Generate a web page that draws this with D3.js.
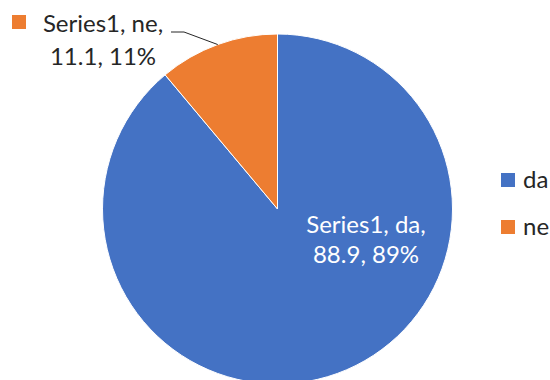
<!DOCTYPE html>
<html>
<head>
<meta charset="utf-8">
<script src="https://cdn.jsdelivr.net/npm/d3@7"></script>
<style>
  html, body { margin: 0; padding: 0; background: #fff; }
  svg { display: block; }
  text { font-family: "Lato", "Liberation Sans", sans-serif; }
</style>
</head>
<body>
<svg id="chart" width="550" height="380"></svg>
<script>
// Chart data
const seriesName = "Series1";
const categories = ["da", "ne"];
const values = [88.9, 11.1];
const percentLabels = ["89%", "11%"];
const colors = ["#4472C4", "#ED7D31"];

const width = 550, height = 380;
const cx = 277.5, cy = 209, radius = 175;
const fontSize = 24;
const textColor = "#262626";

const svg = d3.select("#chart");

const pie = d3.pie().sort(null).value(d => d.value);
const arcs = pie(categories.map((c, i) => ({ cat: c, value: values[i], pct: percentLabels[i], color: colors[i] })));
const arc = d3.arc().innerRadius(0).outerRadius(radius);

const g = svg.append("g").attr("transform", `translate(${cx},${cy})`);

g.selectAll("path.slice")
  .data(arcs)
  .join("path")
  .attr("class", "slice")
  .attr("d", arc)
  .attr("fill", d => d.data.color)
  .attr("stroke", "#fff")
  .attr("stroke-width", 1);

// Label for the large slice, placed inside
const big = arcs[0];
const bigLabel = g.append("text")
  .attr("fill", "#fff")
  .attr("font-size", fontSize)
  .attr("text-anchor", "middle");
bigLabel.append("tspan").attr("x", 88.5).attr("y", 24)
  .text(`${seriesName}, ${big.data.cat},`);
bigLabel.append("tspan").attr("x", 88.5).attr("y", 54)
  .text(`${d3.format(".1f")(big.data.value)}, ${big.data.pct}`);

// Label for the small slice, outside with a leader line
const small = arcs[1];
const mid = (small.startAngle + small.endAngle) / 2;
const edge = [radius * Math.sin(mid), -radius * Math.cos(mid)];
const elbow = [184 - cx, 32 - cy];
const lineStart = [171 - cx, 32 - cy];
g.append("polyline")
  .attr("points", [lineStart, elbow, edge].map(p => p.join(",")).join(" "))
  .attr("fill", "none")
  .attr("stroke", textColor)
  .attr("stroke-width", 1);

const lbl = svg.append("g");
lbl.append("rect")
  .attr("x", 12).attr("y", 15).attr("width", 14).attr("height", 14)
  .attr("fill", small.data.color);
const smallText = lbl.append("text")
  .attr("fill", textColor)
  .attr("font-size", fontSize)
  .attr("text-anchor", "middle");
smallText.append("tspan").attr("x", 103).attr("y", 32)
  .text(`${seriesName}, ${small.data.cat},`);
smallText.append("tspan").attr("x", 103).attr("y", 65)
  .text(`${d3.format(".1f")(small.data.value)}, ${small.data.pct}`);

// Legend
const legend = svg.append("g")
  .selectAll("g")
  .data(categories)
  .join("g")
  .attr("transform", (d, i) => `translate(501,${173 + i * 47})`);
legend.append("rect")
  .attr("width", 14).attr("height", 14)
  .attr("fill", (d, i) => colors[i]);
legend.append("text")
  .attr("x", 22).attr("y", 15)
  .attr("font-size", fontSize)
  .attr("fill", textColor)
  .text(d => d);
</script>
</body>
</html>
